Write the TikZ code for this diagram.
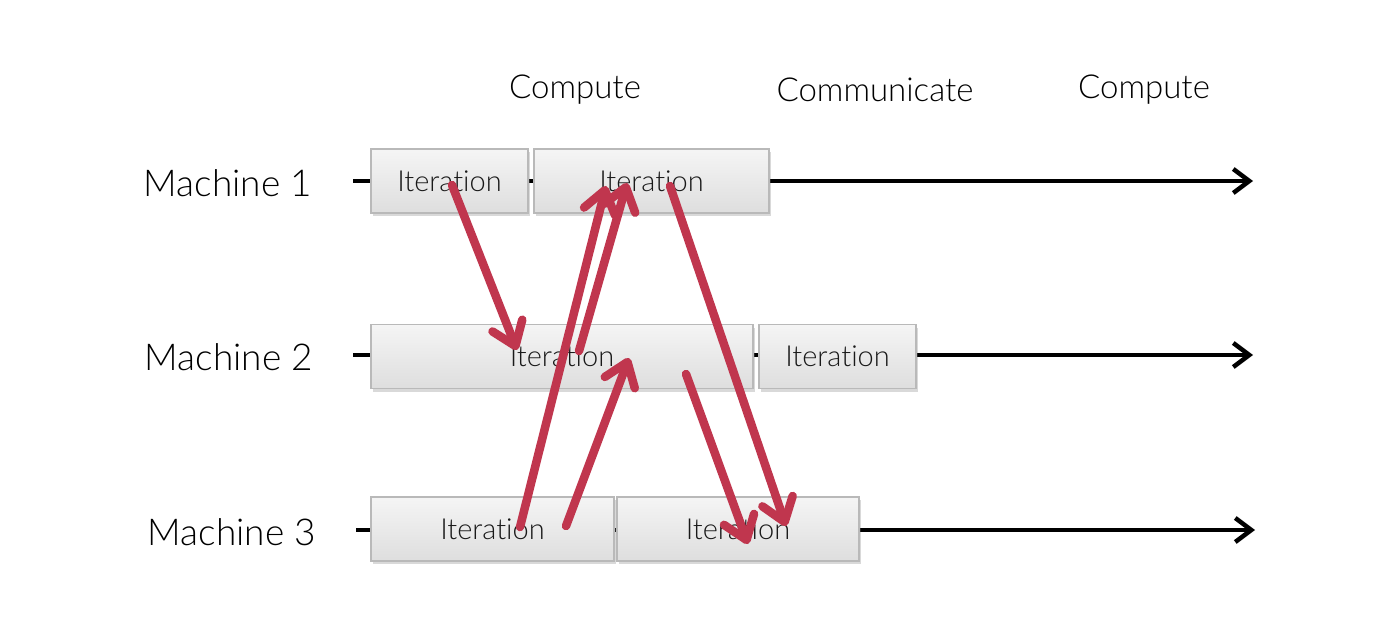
\documentclass[tikz,border=0pt]{standalone}
\usepackage{fontspec}
\setmainfont{Lato}[UprightFont={* Light},Ligatures={NoCommon,NoRare}]
\usetikzlibrary{arrows.meta,shadows}
\definecolor{redarrow}{RGB}{192,54,78}
\definecolor{boxborder}{RGB}{185,185,185}
\newcommand{\iterword}{Iterat\kern0pt ion}
\begin{document}
\begin{tikzpicture}[x=1pt,y=-1pt,
  iterbox/.style={draw=boxborder,line width=1.5pt,top color=white!96!black,bottom color=white!87!black,
    drop shadow={shadow xshift=1.5pt,shadow yshift=-3pt,opacity=0.3},
    minimum height=64pt,inner sep=0pt,font=\fontsize{29}{32}\selectfont,text=black!90},
  machlabel/.style={font=\fontsize{37}{40}\selectfont,text=black},
  header/.style={font=\fontsize{33}{36}\selectfont,text=black},
  timeline/.style={line width=4.5pt,-{Straight Barb[length=16pt,width=24pt,line width=4.5pt]}},
  msg/.style={draw=redarrow,line width=8.5pt,line cap=round,-{Straight Barb[length=22pt,width=32pt,line width=8.5pt,round]}}]
\useasboundingbox (0,0) rectangle (1399,641);
% headers
\node[header] (h1) at (575,90) {Compute};
\node[header] (h2) at (875,90) {Communicate};
\node[header] (h3) at (1144,90) {Compute};
% machine labels
\node[machlabel] (lab1) at (228,183) {Machine 1};
\node[machlabel] (lab2) at (229,357) {Machine 2};
\node[machlabel] (lab3) at (232,532) {Machine 3};
% timelines
\coordinate (t1s) at (353,181); \coordinate (t1e) at (1253,181);
\coordinate (t2s) at (353,355); \coordinate (t2e) at (1253,355);
\coordinate (t3s) at (356,530); \coordinate (t3e) at (1255,530);
\draw[timeline] (t1s) -- (t1e);
\draw[timeline] (t2s) -- (t2e);
\draw[timeline] (t3s) -- (t3e);
% boxes
\node[iterbox,minimum width=157pt] (m1a) at (449.5,181) {\iterword};
\node[iterbox,minimum width=235pt] (m1b) at (651.5,181) {\iterword};
\node[iterbox,minimum width=382pt] (m2a) at (562,356.5) {\iterword};
\node[iterbox,minimum width=157pt] (m2b) at (837.5,356.5) {\iterword};
\node[iterbox,minimum width=243pt] (m3a) at (492.5,529) {\iterword};
\node[iterbox,minimum width=242pt] (m3b) at (738,529) {\iterword};
% message endpoints
\coordinate (a1s) at (452,185); \coordinate (a1e) at (517,350);
\coordinate (a2s) at (520,527); \coordinate (a2e) at (606,186);
\coordinate (a3s) at (579,351); \coordinate (a3e) at (627,183);
\coordinate (a4s) at (566,526); \coordinate (a4e) at (629,358);
\coordinate (a5s) at (670,186); \coordinate (a5e) at (786,526);
\coordinate (a6s) at (686,374); \coordinate (a6e) at (748,544);
\draw[msg] (a1s) -- (a1e);
\draw[msg] (a2s) -- (a2e);
\draw[msg] (a3s) -- (a3e);
\draw[msg] (a4s) -- (a4e);
\draw[msg] (a5s) -- (a5e);
\draw[msg] (a6s) -- (a6e);
\end{tikzpicture}
\end{document}
